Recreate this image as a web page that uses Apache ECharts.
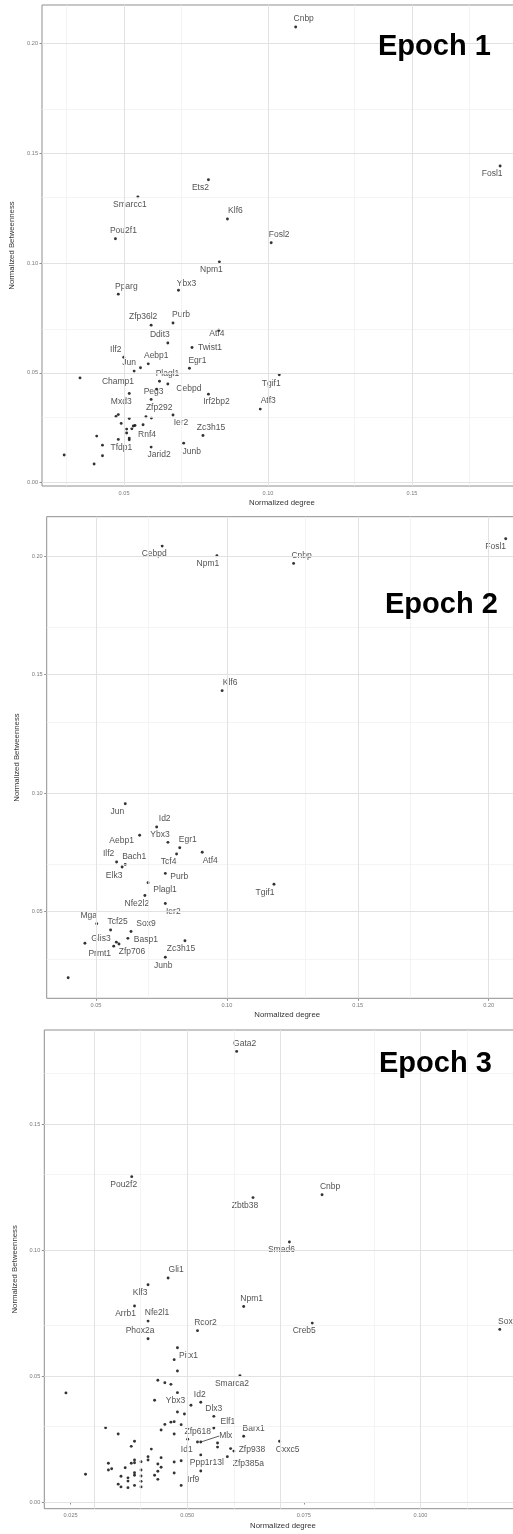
<!DOCTYPE html>
<html>
<head>
<meta charset="utf-8">
<script src="https://cdn.jsdelivr.net/npm/echarts@6/dist/echarts.min.js"></script>
<style>
html,body{margin:0;padding:0;background:#fff;}
#chart{width:513px;height:1534px;}
</style>
</head>
<body>
<div id="chart"></div>
<script>
// ---------- DATA ----------
// Epoch 1
const epoch1Names = ['Cnbp','Fosl1','Ets2','Smarcc1','Klf6','Pou2f1','Fosl2','Npm1','Pparg','Ybx3','Zfp36l2','Purb','Atf4','Ddit3','Twist1','Ilf2','Aebp1','Jun','','Egr1','Champ1','Tgif1','Plagl1','Cebpd','Peg3','Mxd3','Irf2bp2','Zfp292','Atf3','Ier2','Zc3h15','Junb','Jarid2','Rnf4','Tfdp1',
  '','','','','','','','','','','','','','','','','',''];
const epoch1X = [0.1096,0.1806,0.0793,0.0548,0.0859,0.0470,0.1011,0.0831,0.0480,0.0689,0.0594,0.0670,0.0829,0.0652,0.0736,0.0499,0.0584,0.0535,0.0557,0.0727,0.0347,0.1039,0.0623,0.0652,0.0613,0.0518,0.0793,0.0594,0.0973,0.0670,0.0774,0.0707,0.0594,0.0538,0.0480,
  0.0480,0.0472,0.0518,0.0576,0.0595,0.0490,0.0532,0.0566,0.0527,0.0509,0.0509,0.0405,0.0518,0.0518,0.0425,0.0292,0.0425,0.0396];
const epoch1Y = [0.2074,0.1441,0.1379,0.1301,0.1200,0.1110,0.1092,0.1005,0.0858,0.0876,0.0717,0.0727,0.0694,0.0636,0.0615,0.0571,0.0541,0.0508,0.0523,0.0521,0.0477,0.0491,0.0462,0.0449,0.0426,0.0406,0.0403,0.0379,0.0335,0.0308,0.0215,0.0180,0.0162,0.0260,0.0197,
  0.0310,0.0301,0.0292,0.0300,0.0294,0.0270,0.0258,0.0264,0.0245,0.0244,0.0226,0.0212,0.0203,0.0195,0.0171,0.0126,0.0123,0.0085];

// Epoch 2
const epoch2Names = ['Cebpd','Npm1','Cnbp','Fosl1','Klf6','Jun','Id2','Ybx3','Aebp1','Egr1','Atf4','Tcf4','Ilf2','Bach1','Elk3','Purb','Tgif1','Plagl1','Nfe2l2','Ier2','Mga','Tcf25','Sox9','Glis3','Basp1','Prmt1','Zfp706','','Zc3h15','Junb',''];
const epoch2X = [0.0753,0.0962,0.1255,0.2065,0.0982,0.0612,0.0732,0.0775,0.0667,0.0820,0.0906,0.0808,0.0579,0.0612,0.0600,0.0765,0.1180,0.0699,0.0687,0.0765,0.0503,0.0556,0.0634,0.0458,0.0622,0.0568,0.0588,0.0578,0.0840,0.0765,0.0394];
const epoch2Y = [0.2042,0.2001,0.1969,0.2073,0.1432,0.0955,0.0857,0.0792,0.0822,0.0769,0.0750,0.0743,0.0709,0.0699,0.0688,0.0661,0.0615,0.0622,0.0568,0.0534,0.0449,0.0422,0.0416,0.0366,0.0387,0.0354,0.0363,0.0371,0.0377,0.0307,0.0221];

// Epoch 3
const epoch3Names = ['Gata2','Pou2f2','Zbtb38','Cnbp','Smad6','Gli1','Klf3','Npm1','Arrb1','Nfe2l1','Rcor2','Creb5','Phox2a','Sox11','Pitx1','','','Smarca2','','','','Ybx3','','Id2','','Dlx3','','','','','','','Elf1','','','Zfp618','Barx1','','Mlx','','','Cxxc5','','Zfp938','Id1','Zfp385a','Ppp1r13l','Irf9','','',
  '','','','','','','','','','','','','','','','','','','','','','','','','','','','','','','','','','','','',''];
const epoch3X = [0.0606,0.0381,0.0641,0.0789,0.0719,0.0459,0.0416,0.0621,0.0387,0.0416,0.0522,0.0768,0.0416,0.1170,0.0479,0.0472,0.0479,0.0613,0.0437,0.0452,0.0465,0.0479,0.0430,0.0529,0.0508,0.0557,0.0479,0.0494,0.0472,0.0465,0.0452,0.0487,0.0557,0.0444,0.0472,0.0501,0.0621,0.0522,0.0529,0.0565,0.0565,0.0698,0.0593,0.0600,0.0529,0.0586,0.0529,0.0487,0.0487,0.0240,
  0.0325,0.0352,0.0387,0.0380,0.0423,0.0416,0.0416,0.0444,0.0387,0.0387,0.0380,0.0401,0.0331,0.0437,0.0472,0.0444,0.0367,0.0331,0.0338,0.0401,0.0437,0.0387,0.0387,0.0472,0.0282,0.0358,0.0373,0.0401,0.0430,0.0437,0.0373,0.0401,0.0352,0.0387,0.0358,0.0373,0.0401];
const epoch3Y = [0.1788,0.1291,0.1208,0.1219,0.1032,0.0889,0.0862,0.0776,0.0778,0.0718,0.0680,0.0710,0.0648,0.0685,0.0612,0.0565,0.0520,0.0501,0.0483,0.0473,0.0467,0.0434,0.0404,0.0396,0.0384,0.0340,0.0357,0.0349,0.0319,0.0317,0.0308,0.0307,0.0294,0.0286,0.0270,0.0249,0.0261,0.0238,0.0238,0.0234,0.0218,0.0241,0.0212,0.0202,0.0187,0.0180,0.0123,0.0066,0.0164,0.0433,
  0.0295,0.0270,0.0241,0.0221,0.0210,0.0180,0.0167,0.0176,0.0167,0.0156,0.0154,0.0160,0.0154,0.0151,0.0159,0.0138,0.0136,0.0127,0.0132,0.0127,0.0122,0.0116,0.0106,0.0115,0.0110,0.0102,0.0096,0.0103,0.0106,0.0090,0.0083,0.0082,0.0071,0.0066,0.0060,0.0057,0.0060];

// Tick values
const ticks1X = [0.05,0.10,0.15], minor1X = [0.025,0.075,0.125,0.175];
const ticks1Y = [0.00,0.05,0.10,0.15,0.20], minor1Y = [0.025,0.075,0.125,0.175];
const ticks2X = [0.05,0.10,0.15,0.20], minor2X = [0.075,0.125,0.175];
const ticks2Y = [0.05,0.10,0.15,0.20], minor2Y = [0.025,0.075,0.125,0.175];
const ticks3X = [0.025,0.050,0.075,0.100], minor3X = [0.0375,0.0625,0.0875,0.1125];
const ticks3Y = [0.00,0.05,0.10,0.15], minor3Y = [0.025,0.075,0.125,0.175];

const panelTitles = ['Epoch 1','Epoch 2','Epoch 3'];
const xTitle = 'Normalized degree';
const yTitle = 'Normalized Betweenness';

// ---------- STYLE (label offsets in px) ----------
const labelOffsets1 = {Cnbp:[8,-8],Fosl1:[-8,8],Ets2:[-8,8],Smarcc1:[-8,8],Klf6:[8,-8],Pou2f1:[8,-8],Fosl2:[8,-8],Npm1:[-8,8],Pparg:[8,-8],Ybx3:[8,-7],Zfp36l2:[-8,-8],Purb:[8,-8],Atf4:[-2,3],Ddit3:[-8,-8],Twist1:[18,0],Ilf2:[-8,-8],Aebp1:[8,-8],Jun:[-5,-8],Egr1:[8,-8],Champ1:[38,4],Tgif1:[-8,9],Plagl1:[8,-8],Cebpd:[21,5],Peg3:[-3,3],Mxd3:[-8,8],Irf2bp2:[8,8],Zfp292:[8,8],Atf3:[8,-8],Ier2:[8,8],Zc3h15:[8,-8],Junb:[8,9],Jarid2:[8,8],Rnf4:[12,9],Tfdp1:[3,8]};
const labelOffsets2 = {Cebpd:[-8,8],Npm1:[-9,8],Cnbp:[8,-8],Fosl1:[-10,8],Klf6:[8,-8],Jun:[-8,8],Id2:[8,-8],Ybx3:[-8,-8],Aebp1:[-18,5],Egr1:[8,-8],Atf4:[8,8],Tcf4:[-8,8],Ilf2:[-8,-8],Bach1:[9,-8],Elk3:[-8,9],Purb:[14,3],Tgif1:[-9,8],Plagl1:[17,7],Nfe2l2:[-8,8],Ier2:[8,8],Mga:[-8,-8],Tcf25:[7,-8],Sox9:[15,-8],Glis3:[16,-5],Basp1:[18,1],Prmt1:[-14,7],Zfp706:[13,8],Zc3h15:[-4,8],Junb:[-2,8]};
const labelOffsets3 = {Gata2:[8,-8],Pou2f2:[-8,8],Zbtb38:[-8,8],Cnbp:[8,-8],Smad6:[-8,8],Gli1:[8,-8],Klf3:[-8,8],Npm1:[8,-8],Arrb1:[-9,8],Nfe2l1:[9,-8],Rcor2:[8,-8],Creb5:[-8,8],Phox2a:[-8,-8],Sox11:[10,-8],Pitx1:[11,8],Smarca2:[-8,8],Ybx3:[-2,8],Id2:[-1,-8],Dlx3:[0,-8],Elf1:[14,-6],Zfp618:[10,-8],Barx1:[10,-8],Mlx:[25,-6],Cxxc5:[8,8],Zfp938:[18,-1],Id1:[-14,-5],Zfp385a:[21,7],Ppp1r13l:[6,-8],Irf9:[12,-6]};
const leaderLines = ['Mlx'];

const FONT = 'Liberation Sans, Arial, Helvetica, sans-serif';

const grids = [
  {left:42, top:5, width:480, height:481},
  {left:46.7, top:516.7, width:481, height:481.6},
  {left:44.3, top:1030, width:477.4, height:478.7}
];
const xRanges = [[0.0215,0.1882],[0.0312,0.2149],[0.01936,0.1217]];
const yRanges = [[-0.0015,0.2174],[0.0134,0.2166],[-0.00265,0.1873]];
const xTicks = [ticks1X,ticks2X,ticks3X], xMinor = [minor1X,minor2X,minor3X];
const yTicks = [ticks1Y,ticks2Y,ticks3Y], yMinor = [minor1Y,minor2Y,minor3Y];
const xFmt = [v=>v.toFixed(2), v=>v.toFixed(2), v=>v.toFixed(3)];
const names = [epoch1Names,epoch2Names,epoch3Names];
const xs = [epoch1X,epoch2X,epoch3X];
const ys = [epoch1Y,epoch2Y,epoch3Y];
const offsets = [labelOffsets1,labelOffsets2,labelOffsets3];
const titlePos = [[378,46.5],[385,604.5],[379,1063.5]];

const chart = echarts.init(document.getElementById('chart'), null, {renderer:'canvas'});

const option = {
  animation:false,
  backgroundColor:'#fff',
  grid: grids.map(g => Object.assign({show:true, borderColor:'#8f8f8f', borderWidth:1, backgroundColor:'transparent', containLabel:false, outerBoundsMode:'none'}, g)),
  xAxis: grids.map((g,i) => ({
    type:'value', gridIndex:i, min:xRanges[i][0], max:xRanges[i][1],
    name:xTitle, nameLocation:'middle', nameGap:13,
    nameTextStyle:{fontSize:7.8, color:'#333', fontFamily:FONT},
    axisLine:{show:false},
    axisTick:{show:true, customValues:xTicks[i], length:2.5, lineStyle:{color:'#8f8f8f', width:1}},
    axisLabel:{customValues:xTicks[i], formatter:xFmt[i], fontSize:5.6, color:'#7a7a7a', margin:4, fontFamily:FONT},
    splitLine:{show:false}
  })),
  yAxis: grids.map((g,i) => ({
    type:'value', gridIndex:i, min:yRanges[i][0], max:yRanges[i][1],
    name:yTitle, nameLocation:'middle', nameGap:20,
    nameTextStyle:{fontSize:7.8, color:'#333', fontFamily:FONT},
    axisLine:{show:false},
    axisTick:{show:true, customValues:yTicks[i], length:2.5, lineStyle:{color:'#8f8f8f', width:1}},
    axisLabel:{customValues:yTicks[i], formatter:v=>v.toFixed(2), fontSize:5.6, color:'#7a7a7a', margin:4, fontFamily:FONT},
    splitLine:{show:false}
  })),
  series: [],
  graphic: panelTitles.map((t,i) => ({
    type:'text', x:titlePos[i][0], y:titlePos[i][1], z:100,
    style:{text:t, fontSize:29, fontWeight:'bold', fontFamily:FONT, fill:'#000', align:'left', verticalAlign:'middle'}
  }))
};

for (let i=0;i<3;i++){
  const minorLines = xMinor[i].map(v=>({xAxis:v})).concat(yMinor[i].map(v=>({yAxis:v})));
  const majorLines = xTicks[i].map(v=>({xAxis:v})).concat(yTicks[i].map(v=>({yAxis:v})));
  option.series.push({
    type:'scatter', xAxisIndex:i, yAxisIndex:i, data:[], silent:true, z:1,
    markLine:{silent:true, symbol:'none', animation:false, label:{show:false},
      lineStyle:{color:'#efefef', width:0.7, type:'solid'}, emphasis:{disabled:true}, data:minorLines}
  });
  option.series.push({
    type:'scatter', xAxisIndex:i, yAxisIndex:i, data:[], silent:true, z:1,
    markLine:{silent:true, symbol:'none', animation:false, label:{show:false},
      lineStyle:{color:'#e2e2e2', width:1, type:'solid'}, emphasis:{disabled:true}, data:majorLines}
  });
  const nm = names[i], off = offsets[i];
  const data = nm.map((n,k)=>{
    const d = {name:n, value:[xs[i][k], ys[i][k]]};
    if (leaderLines.indexOf(n)>=0 && i===2) d.labelLine = {show:true, lineStyle:{color:'#333', width:0.8}};
    return d;
  });
  option.series.push({
    type:'scatter', xAxisIndex:i, yAxisIndex:i, z:3,
    symbol:'circle', symbolSize:2.9,
    itemStyle:{color:'#000'},
    data:data,
    label:{show:true, position:'inside', formatter:p=>p.name, fontSize:8.5, color:'#262626', fontFamily:FONT, align:'center', verticalAlign:'middle',
      textBorderWidth:0, textBorderColor:'transparent', textShadowBlur:0},
    labelLine:{show:false},
    labelLayout:(function(off, nm){ return function(p){
      const o = off[nm[p.dataIndex]] || [0,0];
      return {dx:o[0], dy:o[1]};
    };})(off, nm),
    emphasis:{disabled:true}
  });
}

chart.setOption(option);
</script>
</body>
</html>
